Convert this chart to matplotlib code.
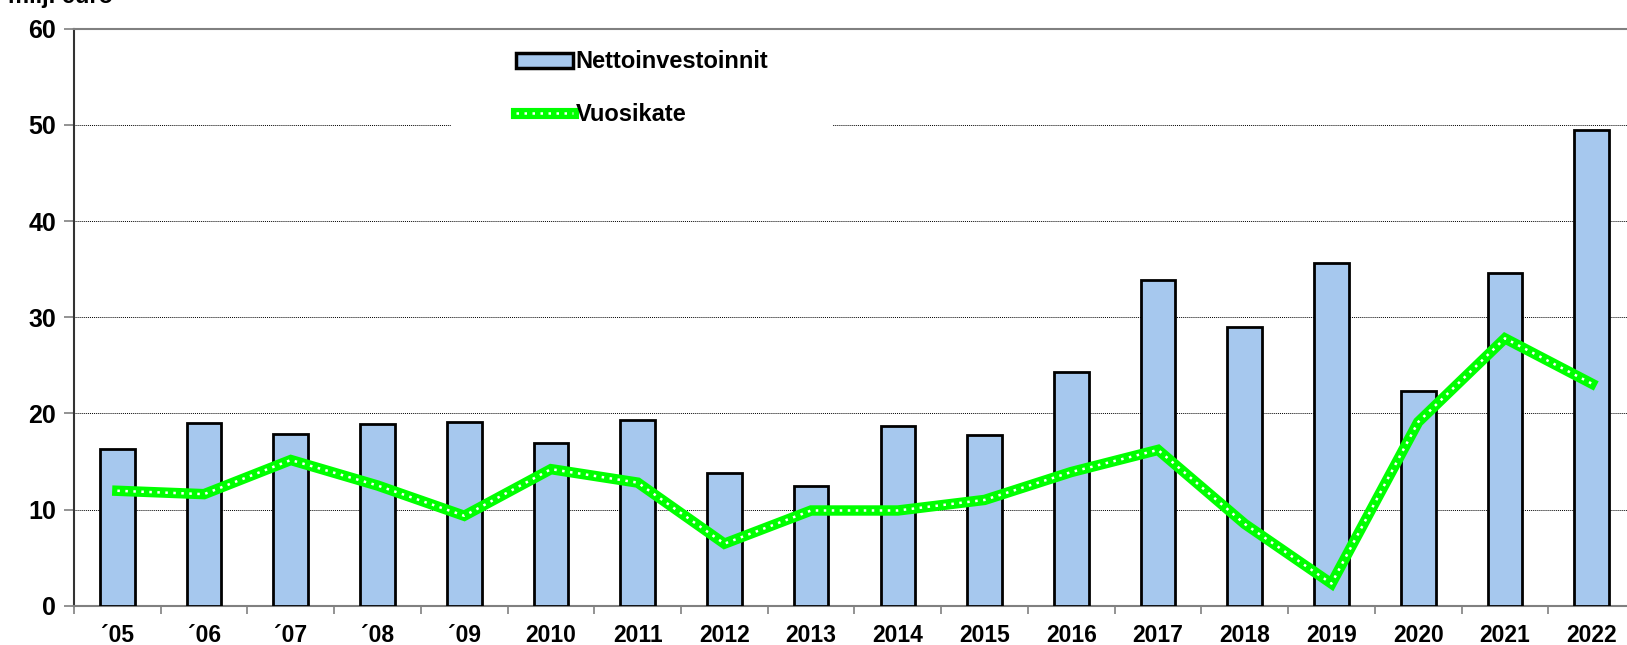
import numpy as np
import matplotlib
matplotlib.use('Agg')
import matplotlib.pyplot as plt
from matplotlib.lines import Line2D
from matplotlib.patches import Patch
from matplotlib.legend_handler import HandlerTuple

plt.rcParams['font.family'] = ['Liberation Sans', 'DejaVu Sans']
plt.rcParams['font.weight'] = 'bold'

# data
years = ['\u00b405', '\u00b406', '\u00b407', '\u00b408', '\u00b409', '2010', '2011', '2012', '2013',
         '2014', '2015', '2016', '2017', '2018', '2019', '2020', '2021', '2022']
nettoinvestoinnit = [16.3, 19.0, 17.85, 18.9, 19.1, 16.9, 19.3, 13.8, 12.4,
                     18.7, 17.7, 24.3, 33.9, 29.0, 35.6, 22.3, 34.6, 49.5]
vuosikate = [11.95, 11.6, 15.15, 12.5, 9.35, 14.2, 12.8, 6.45, 9.9,
             9.9, 11.0, 13.9, 16.2, 8.5, 2.3, 19.1, 27.8, 23.1]

fig = plt.figure(figsize=(16.27, 6.45), dpi=100)
ax = fig.add_axes([74/1627, 39.3/645, 1561/1627, 577/645])
ax.set_axisbelow(True)

x = np.arange(len(years))
ax.bar(x, nettoinvestoinnit, width=0.4, color='#A6C8EE', edgecolor='black', linewidth=2, zorder=3)
ax.plot(x, vuosikate, color='#00FF00', lw=7.5, solid_joinstyle='miter', zorder=4)
ax.plot(x, vuosikate, color='white', lw=1.8, linestyle=(0, (1, 2.2)), zorder=5)

ax.set_xlim(-0.5, len(years) - 0.5)
ax.set_ylim(0, 60)
ax.set_yticks(np.arange(0, 61, 10))
ax.yaxis.grid(True, color='black', linestyle=(0, (1, 1)), linewidth=0.7)
ax.set_xticks(x)
ax.set_xticklabels(years, fontsize=16.5, fontweight='bold')
ax.set_xticks(np.arange(-0.5, len(years), 1), minor=True)
ax.tick_params(axis='x', which='major', length=0, pad=13)
ax.tick_params(axis='x', which='minor', length=6, color='#808080', width=1.2)
ax.tick_params(axis='y', length=7, color='#808080', width=1.2, labelsize=18, pad=6)
for lab in ax.get_yticklabels():
    lab.set_fontweight('bold')

ax.spines['top'].set_color('#808080')
ax.spines['top'].set_linewidth(1.5)
ax.spines['bottom'].set_color('#808080')
ax.spines['bottom'].set_linewidth(1.5)
ax.spines['left'].set_color('#333333')
ax.spines['left'].set_linewidth(1.5)
ax.spines['right'].set_visible(False)

h_bar = Patch(facecolor='#A6C8EE', edgecolor='black', linewidth=2.5)
h_line = (Line2D([], [], color='#00FF00', lw=8), Line2D([], [], color='white', lw=1.8, linestyle=(0, (1, 2.2))))
leg = ax.legend([h_bar, h_line], ['Nettoinvestoinnit', 'Vuosikate'],
                handler_map={tuple: HandlerTuple(ndivide=1, pad=0)},
                loc='center', bbox_to_anchor=(0.364, 0.897),
                frameon=True, fancybox=False, edgecolor='none', facecolor='white', framealpha=1,
                prop={'size': 17, 'weight': 'bold'}, labelspacing=1.25, handlelength=2.4,
                handleheight=0.6, handletextpad=0.13, borderpad=2.75, borderaxespad=0)
leg.set_zorder(1)

fig.text(0.005, 1 - 2.7/645, 'milj. euro', fontsize=17, fontweight='bold', va='baseline', ha='left')

fig.savefig('out.png', dpi=100)
